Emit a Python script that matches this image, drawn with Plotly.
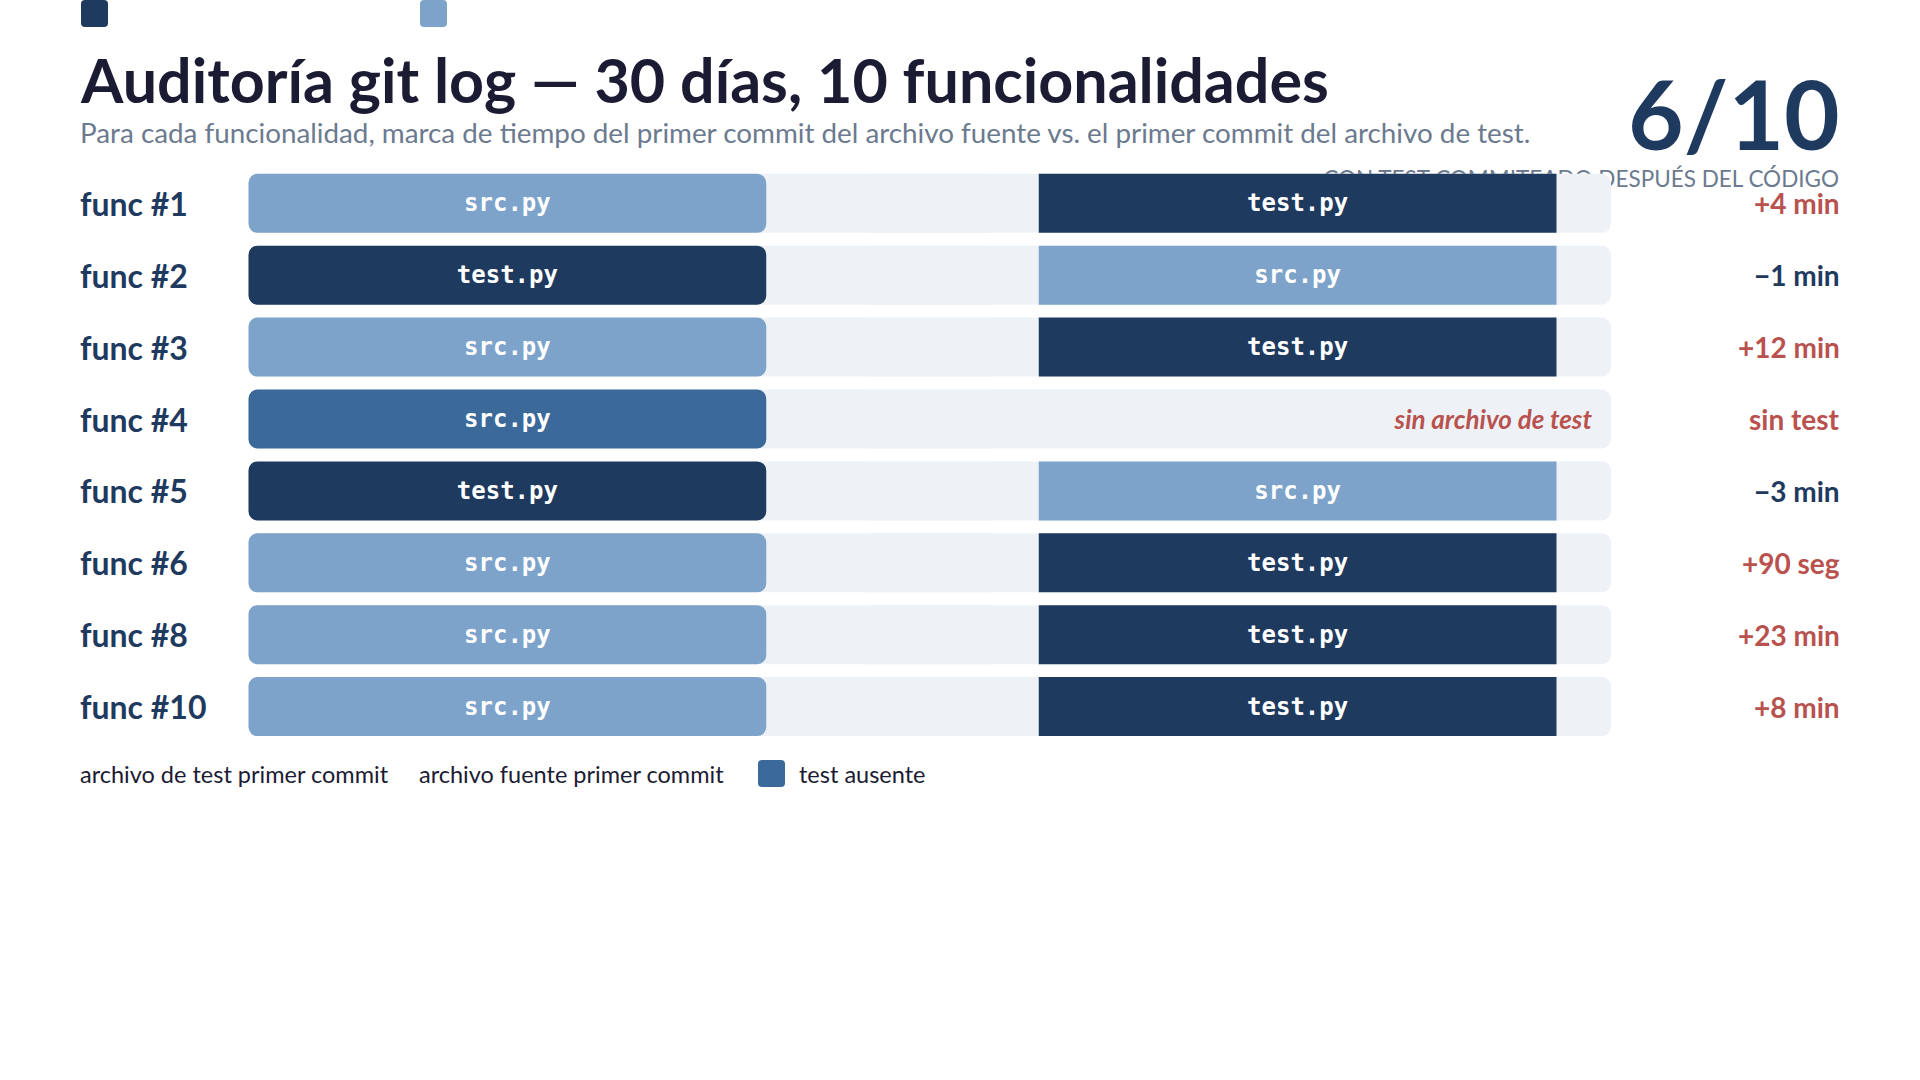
import plotly.graph_objects as go

W, H = 1920, 1080

# ---------------- data ----------------
funcs = ["func #1", "func #2", "func #3", "func #4", "func #5", "func #6", "func #8", "func #10"]
first_file = ["src.py", "test.py", "src.py", "src.py", "test.py", "src.py", "src.py", "src.py"]
second_file = ["test.py", "src.py", "test.py", None, "src.py", "test.py", "test.py", "test.py"]
delta_min = [4, -1, 12, None, -3, 1.5, 23, 8]
delta_labels = ["+4 min", "\u22121 min", "+12 min", "sin test", "\u22123 min", "+90 seg", "+23 min", "+8 min"]
missing_label = "sin archivo de test"
summary_after = 6
summary_total = 10
summary_caption = "CON TEST COMMITEADO DESPUÉS DEL CÓDIGO"
legend_labels = ["archivo de test primer commit", "archivo fuente primer commit", "test ausente"]
title = "Auditoría git log \u2014 30 días, 10 funcionalidades"
subtitle = ("Para cada funcionalidad, marca de tiempo del primer commit del archivo fuente "
            "vs. el primer commit del archivo de test.")

# ---------------- style / layout constants ----------------
NAVY = "#1f3a5f"
LIGHT = "#7da3cb"
MISSING = "#3b6a9a"
TRACK = "#eef2f7"
RED = "#b9524e"
INK = "#1b1b33"
GRAY = "#6b7a8f"
SANS = "Lato, 'Noto Sans', sans-serif"
MONO = "'DejaVu Sans Mono', monospace"

TRACK_X0, TRACK_X1 = 248.5, 1611.0     # px
ROW0_Y, ROW_STEP = 203.3, 71.9          # px
BAR_W = 0.82
SEG1 = (0.0, 0.38)
SEG2 = (0.58, 0.96)
RADIUS = 9
LEFT_PX = 81
RIGHT_PX = 1839
PAD = 3            # annotation inner padding compensation (px)
TEXT_DY = 0.05     # small vertical nudge for scatter text (row units)

file_color = {"src.py": LIGHT, "test.py": NAVY}
n = len(funcs)
rows = list(range(n))
TW = TRACK_X1 - TRACK_X0

fig = go.Figure()

# base subplot (pixel space) - caption that sits under the bars
fig.add_trace(go.Scatter(
    x=[RIGHT_PX], y=[181], mode="text", text=[summary_caption],
    textposition="middle left", cliponaxis=False,
    textfont=dict(family=SANS, size=22.5, color=GRAY),
    hoverinfo="skip", xaxis="x", yaxis="y"))

# track (two overlapping halves so both ends are rounded)
fig.add_trace(go.Bar(
    y=rows, x=[0.55] * n, base=[0.45] * n, orientation="h", width=BAR_W,
    marker=dict(color=TRACK, cornerradius=RADIUS, line=dict(width=0)),
    hoverinfo="skip", xaxis="x2", yaxis="y2"))
fig.add_trace(go.Bar(
    y=rows, x=[-0.55] * n, base=[0.55] * n, orientation="h", width=BAR_W,
    marker=dict(color=TRACK, cornerradius=RADIUS, line=dict(width=0)),
    hoverinfo="skip", xaxis="x2", yaxis="y2"))

# first commit segment
seg1_colors = [MISSING if s is None else file_color[f] for f, s in zip(first_file, second_file)]
fig.add_trace(go.Bar(
    y=rows, x=[-(SEG1[1] - SEG1[0])] * n, base=[SEG1[1]] * n, orientation="h", width=BAR_W,
    marker=dict(color=seg1_colors, cornerradius=RADIUS, line=dict(width=0)),
    text=first_file, textposition="inside", insidetextanchor="middle", textangle=0,
    textfont=dict(family=MONO, size=24, color="white", weight="bold"),
    hoverinfo="skip", xaxis="x2", yaxis="y2"))

# second commit segment
r2 = [i for i in rows if second_file[i] is not None]
fig.add_trace(go.Bar(
    y=r2, x=[SEG2[1] - SEG2[0]] * len(r2), base=[SEG2[0]] * len(r2), orientation="h", width=BAR_W,
    marker=dict(color=[file_color[second_file[i]] for i in r2], line=dict(width=0)),
    text=[second_file[i] for i in r2], textposition="inside", insidetextanchor="middle", textangle=0,
    textfont=dict(family=MONO, size=24, color="white", weight="bold"),
    hoverinfo="skip", xaxis="x2", yaxis="y2"))

# "sin archivo de test" inside the empty track
rm = [i for i in rows if second_file[i] is None]
fig.add_trace(go.Scatter(
    y=[i + TEXT_DY for i in rm], x=[0.986] * len(rm), mode="text", text=[missing_label] * len(rm),
    textposition="middle left", cliponaxis=False,
    textfont=dict(family=SANS, size=26, color=RED, style="italic", weight="bold"),
    hoverinfo="skip", xaxis="x2", yaxis="y2"))

annotations = []
# row labels
for i, f in enumerate(funcs):
    annotations.append(dict(x=LEFT_PX / W, xref="paper", xanchor="left", xshift=-PAD, y=i, yref="y2",
                            yanchor="middle", text=f"<b>{f}</b>", showarrow=False,
                            font=dict(family=SANS, size=32, color=NAVY)))
# delta labels
for i, (d, lab) in enumerate(zip(delta_min, delta_labels)):
    col = RED if (d is None or d > 0) else NAVY
    annotations.append(dict(x=RIGHT_PX / W, xref="paper", xanchor="right", xshift=PAD, y=i, yref="y2",
                            yanchor="middle", text=f"<b>{lab}</b>", showarrow=False,
                            font=dict(family=SANS, size=28, color=col)))

# title, subtitle, summary
annotations.append(dict(x=LEFT_PX / W, xref="paper", xanchor="left", xshift=-PAD, y=1 - 79 / H, yref="paper",
                        yanchor="middle", text=f"<b>{title}</b>", showarrow=False,
                        font=dict(family=SANS, size=61, color=INK)))
annotations.append(dict(x=LEFT_PX / W, xref="paper", xanchor="left", xshift=-PAD, y=1 - 132 / H, yref="paper",
                        yanchor="middle", text=subtitle, showarrow=False,
                        font=dict(family=SANS, size=27.8, color=GRAY)))
annotations.append(dict(x=RIGHT_PX / W, xref="paper", xanchor="right", xshift=PAD, y=1 - 112 / H, yref="paper",
                        yanchor="middle", text=f"<b>{summary_after}/{summary_total}</b>", showarrow=False,
                        font=dict(family=SANS, size=96, color=NAVY)))

# legend texts
legend_x = [LEFT_PX, 420, 800]
for lx, lab in zip(legend_x, legend_labels):
    annotations.append(dict(x=lx / W, xref="paper", xanchor="left", xshift=-PAD, y=1 - 774 / H, yref="paper",
                            yanchor="middle", text=lab, showarrow=False,
                            font=dict(family=SANS, size=23.5, color=INK)))


def rounded_rect(x0, y0, x1, y1, r):
    return (f"M{x0 + r},{y0} L{x1 - r},{y0} Q{x1},{y0} {x1},{y0 + r} L{x1},{y1 - r} Q{x1},{y1} {x1 - r},{y1} "
            f"L{x0 + r},{y1} Q{x0},{y1} {x0},{y1 - r} L{x0},{y0 + r} Q{x0},{y0} {x0 + r},{y0} Z")


shapes = []
for sx, col in [(LEFT_PX, NAVY), (420, LIGHT)]:
    shapes.append(dict(type="path", xref="x", yref="y", path=rounded_rect(sx, 0, sx + 27, 27, 4),
                       fillcolor=col, line=dict(width=0), layer="above"))
shapes.append(dict(type="path", xref="x", yref="y", path=rounded_rect(758, 760, 785, 787, 4),
                   fillcolor=MISSING, line=dict(width=0), layer="above"))

fig.update_layout(
    width=W, height=H,
    margin=dict(l=0, r=0, t=0, b=0),
    paper_bgcolor="white", plot_bgcolor="white",
    showlegend=False, barmode="overlay", hovermode=False,
    xaxis=dict(range=[0, W], domain=[0, 1], visible=False, fixedrange=True),
    yaxis=dict(range=[H, 0], domain=[0, 1], visible=False, fixedrange=True),
    xaxis2=dict(range=[-TRACK_X0 / TW, (W - TRACK_X0) / TW], overlaying="x", visible=False, fixedrange=True),
    yaxis2=dict(range=[(H - ROW0_Y) / ROW_STEP, -ROW0_Y / ROW_STEP], overlaying="y", visible=False,
                fixedrange=True),
    annotations=annotations,
    shapes=shapes,
)

fig.write_html("out.html", config={"displayModeBar": False},
               post_script="document.body.style.margin='0';document.body.style.overflow='hidden';")
